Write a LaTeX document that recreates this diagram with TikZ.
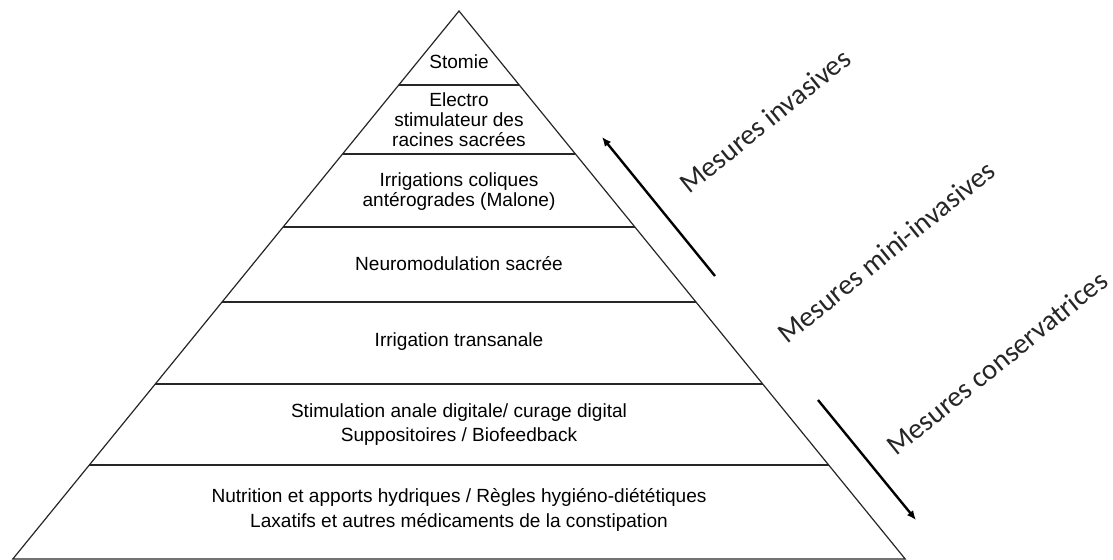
\documentclass[tikz,border=0pt]{standalone}
\usepackage{fontspec}
\setmainfont{Liberation Sans}
\newfontfamily\labelfont{Carlito}
\usetikzlibrary{arrows.meta}
\begin{document}
\begin{tikzpicture}[x=0.75pt,y=-0.75pt,
    level/.style={font=\fontsize{14.3}{15}\selectfont, align=center},
    widelevel/.style={font=\fontsize{14.3}{18.4}\selectfont, align=center},
    side/.style={font=\labelfont\fontsize{21.5}{24}\selectfont, text=black!85, rotate=39},
    edge/.style={line width=0.9pt, draw=black!85},
    bigarrow/.style={line width=1.8pt, -{Latex[length=7pt,width=6pt]}}]
    \useasboundingbox (0,0) rectangle (1113,560);
    % pyramid outline
    \coordinate (top) at (459,11);
    \coordinate (left) at (12.8,559);
    \coordinate (right) at (905.2,559);
    \draw[edge] (top) -- (left) -- (right) -- cycle;
    \draw[edge] (398.8,85) -- (519.2,85);
    \draw[edge] (342.6,154) -- (575.4,154);
    \draw[edge] (283.1,227) -- (634.9,227);
    \draw[edge] (222.1,302) -- (695.9,302);
    \draw[edge] (155.3,384) -- (762.7,384);
    \draw[edge] (89.4,465) -- (828.6,465);
    % levels
    \node[level] (stomie) at (459,62) {Stomie};
    \node[level] (electro) at (459,120) {Electro\\stimulateur des\\racines sacrées};
    \node[level] (malone) at (459,192) {Irrigations coliques\\antérogrades (Malone)};
    \node[level] (neuro) at (459,264) {Neuromodulation sacrée};
    \node[level] (transanal) at (459,342) {Irrigation transanale};
    \node[widelevel] (stimulation) at (459,424.5) {Stimulation anale digitale/ curage digital\\Suppositoires / Biofeedback};
    \node[widelevel] (nutrition) at (459,510) {Nutrition et apports hydriques / Règles hygiéno-diététiques\\Laxatifs et autres médicaments de la constipation};
    % side labels
    \node[side] (invasive) at (765,121) {Mesures invasives};
    \node[side] (miniinvasive) at (886,252) {Mesures mini-invasives};
    \node[side] (conservative) at (997,363) {Mesures conservatrices};
    % arrows
    \coordinate (upstart) at (715,276);
    \coordinate (upend) at (602,137);
    \coordinate (downstart) at (818,400);
    \coordinate (downend) at (916,520);
    \draw[bigarrow] (upstart) -- (upend);
    \draw[bigarrow] (downstart) -- (downend);
\end{tikzpicture}
\end{document}
